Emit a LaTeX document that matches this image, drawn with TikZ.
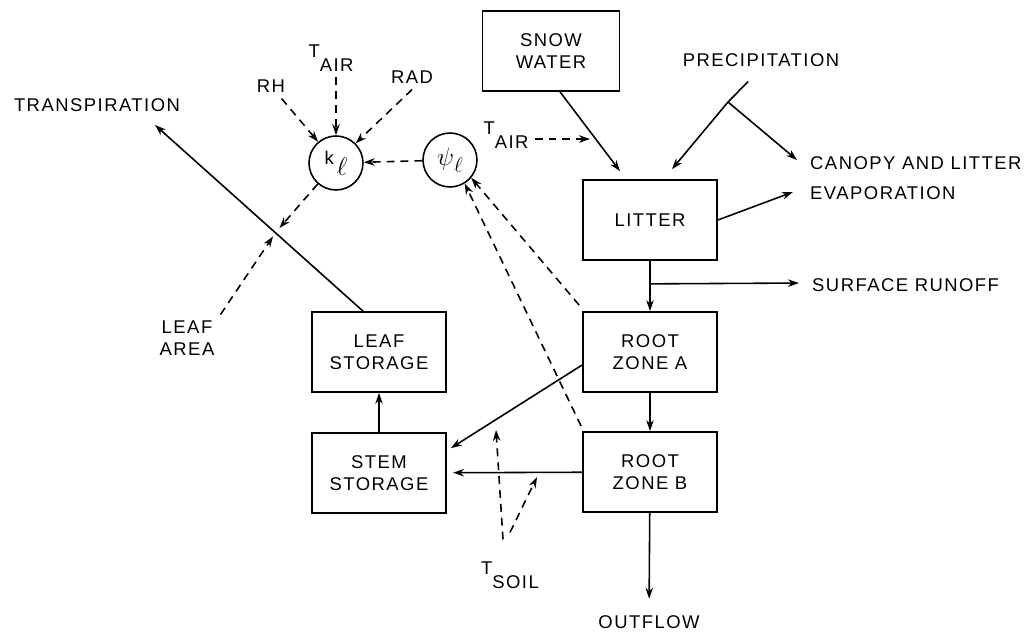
\documentclass[tikz,border=0pt]{standalone}
\usepackage{fontspec}
\setmainfont{Liberation Sans}[LetterSpace=8]
\usetikzlibrary{arrows.meta, positioning, calc}

\newcommand{\lowsub}[2]{#1\raisebox{-0.75em}{#2}}

\begin{document}
\begin{tikzpicture}[
    x=0.02cm, y=-0.02cm,
    font=\fontsize{10.5}{12.5}\selectfont,
    store/.style={draw, line width=1pt, align=center, minimum width=2.68cm,
                  minimum height=1.6cm, inner sep=2pt},
    gauge/.style={draw, circle, line width=0.9pt, minimum size=1.08cm, inner sep=0pt},
    flow/.style={-{Stealth[length=2.2mm, width=1.5mm]}, line width=0.9pt},
    signal/.style={flow, dash pattern=on 4.5pt off 3.4pt}
  ]
    \useasboundingbox (0,0) rectangle (1029,632);

    % water compartments
    \node[store, minimum width=2.74cm] (snow) at (551,51) {SNOW\\WATER};
    \node[store] (litter) at (650,220) {LITTER};
    \node[store] (rootA) at (650,352) {ROOT\\ZONE A};
    \node[store] (rootB) at (650,472) {ROOT\\ZONE B};
    \node[store] (leaf) at (379,352) {LEAF\\STORAGE};
    \node[store] (stem) at (379,473) {STEM\\STORAGE};

    % conductance and potential
    \node[gauge] (kl) at (336,163) {\raisebox{0.4ex}{k}\,\raisebox{-0.7ex}{\Large$\ell$}};
    \node[gauge] (psi) at (450,160) {\Large$\psi$\raisebox{-0.5ex}{\large$\ell$}};

    % labels
    \node (transp) at (97,105) {TRANSPIRATION};
    \node (rh) at (271,86) {RH};
    \node (tairtop) at (331,58) {\lowsub{T}{AIR}};
    \node (rad) at (412,77) {RAD};
    \node[align=center] (leafarea) at (187,338) {LEAF\\AREA};
    \node (tairmid) at (506,135) {\lowsub{T}{AIR}};
    \node (precip) at (761,60) {PRECIPITATION};
    \node[align=left, anchor=west, font=\fontsize{10.5}{17}\selectfont] (canopy)
      at (804,178) {CANOPY AND LITTER\\EVAPORATION};
    \node[anchor=west] (runoff) at (806,285) {SURFACE RUNOFF};
    \node (outflow) at (649,622) {OUTFLOW};
    \node (tsoil) at (510,575) {\lowsub{T}{SOIL}};

    \coordinate (transtip) at (155,125);
    \coordinate (cross) at (276,232);
    \coordinate (tairend) at (590,139);
    \coordinate (split) at (728,102);
    \coordinate (soilup) at (496,430);
    \coordinate (soilright) at (537,477);

    % water flows
    \draw[flow] ($(leaf.north)+(-16,0)$) -- (transtip);
    \draw[flow] ($(snow.south)+(9,0)$) -- ($(litter.north)+(-30,-8)$);
    \draw[line width=0.9pt] ($(precip.south)+(-13,9)$) -- (split);
    \draw[flow] (split) -- ($(litter.north)+(22,-10)$);
    \draw[flow] (split) -- ($(canopy.west)+(-7,-18)$);
    \draw[flow] (litter.east) -- ($(canopy.west)+(-11,14)$);
    \draw[flow] (litter) -- (rootA);
    \draw[flow, shorten >=4pt] ($(litter.south)+(0,23)$) -- (runoff.west |- 0,283);
    \draw[flow] (rootA) -- (rootB);
    \draw[flow, shorten >=6pt] (rootB) -- (outflow);
    \draw[flow] (stem) -- (leaf);
    \draw[flow] ($(rootA.west)+(0,13)$) -- ($(stem.north east)+(4,16)$);
    \draw[flow, shorten >=3.5pt] (rootB) -- (stem);

    % controls
    \draw[signal] (rh) -- (kl);
    \draw[signal] (tairtop.south -| kl) -- (kl);
    \draw[signal] (rad.south) -- (kl.north east);
    \draw[signal] (psi) -- (kl);
    \draw[signal, shorten >=3pt] (kl) -- (cross);
    \draw[signal, shorten >=3pt] (leafarea.north east) -- (cross);
    \draw[signal] (tairmid.east |- tairend) -- (tairend);
    \draw[signal] ($(rootA.north west)+(-3,-6)$) -- (psi.-40);
    \draw[signal] ($(rootB.north west)+(-1,-5)$) -- (psi.-58);
    \draw[signal] ($(tsoil.north)+(-7,-16)$) -- (soilup);
    \draw[signal] ($(tsoil.north)+(0,-23)$) -- (soilright);
  \end{tikzpicture}
\end{document}
